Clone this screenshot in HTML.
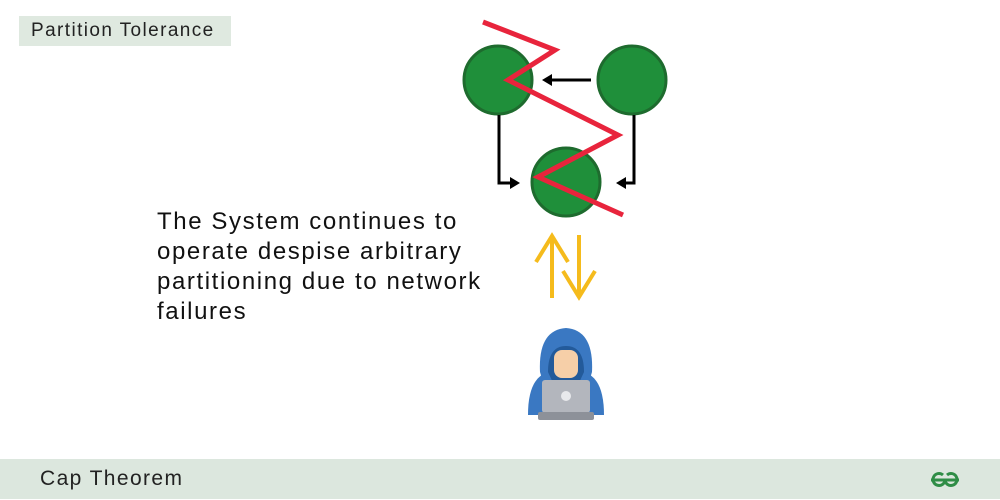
<!DOCTYPE html>
<html><head><meta charset="utf-8"><style>
html,body{margin:0;padding:0;width:1000px;height:500px;overflow:hidden;background:#fff;font-family:"Liberation Sans",sans-serif;}
.hdr{position:absolute;left:19px;top:16px;width:212px;height:30px;background:#dfe9e0;}
.hdr span{position:absolute;left:12px;top:4px;font-size:19px;color:#222;letter-spacing:1.4px;}
.ftr{position:absolute;left:0;top:459px;width:1000px;height:40px;background:#dce7de;}
.ftr span{position:absolute;left:40px;top:8px;font-size:21px;color:#222;letter-spacing:1.4px;}
.txt{position:absolute;left:157px;top:207px;font-size:24px;line-height:30px;color:#111;letter-spacing:1.6px;white-space:nowrap;}
</style></head><body>
<div class="hdr"><span>Partition Tolerance</span></div>
<div class="txt">The System continues to<br>operate despise arbitrary<br>partitioning due to network<br>failures</div>
<svg width="1000" height="500" style="position:absolute;left:0;top:0">
<g fill="#1f8f3a" stroke="#1e6b2e" stroke-width="3">
<circle cx="498" cy="80" r="34"/>
<circle cx="632" cy="80" r="34"/>
<circle cx="566" cy="182" r="34"/>
</g>
<g stroke="#000" stroke-width="3" fill="none">
<line x1="591" y1="80" x2="548" y2="80"/>
<polyline points="499,115 499,183 515,183"/>
<polyline points="634,115 634,183 621,183"/>
</g>
<g fill="#000">
<polygon points="542,80 552,74 552,86"/>
<polygon points="520,183 510,177 510,189"/>
<polygon points="616,183 626,177 626,189"/>
</g>
<polyline points="483,22 555,50 508,80 618,135 538,177 623,215" fill="none" stroke="#e8243c" stroke-width="5" stroke-linejoin="miter"/>
<g stroke="#f5bb1c" stroke-width="4" fill="none">
<line x1="552" y1="298" x2="552" y2="236"/>
<polyline points="536,262 552,236 568,262"/>
<line x1="579" y1="235" x2="579" y2="297"/>
<polyline points="563,271 579,297 595,271"/>
</g>
<g>
<path d="M528,415 Q528,378 548,372 L584,372 Q604,378 604,415 Z" fill="#3a78c2"/>
<path d="M540,372 Q538,330 566,328 Q594,330 592,372 L586,392 L546,392 Z" fill="#3a78c2"/>
<path d="M548,372 Q548,346 566,346 Q584,346 584,372 L578,385 L554,385 Z" fill="#235a9a"/>
<rect x="554" y="350" width="24" height="28" rx="8" fill="#f6cfa8"/>
<rect x="542" y="380" width="48" height="33" rx="3" fill="#b3b6bd"/>
<circle cx="566" cy="396" r="5" fill="#e8e9ec"/>
<rect x="538" y="412" width="56" height="8" rx="2" fill="#8d9199"/>
</g>
</svg>
<div class="ftr"><span>Cap Theorem</span>
<svg width="40" height="20" style="position:absolute;left:928px;top:11px">
<g fill="none" stroke="#2f8d46" stroke-width="3">
<path d="M3,10 H17 A6,6 0 1 1 15,5"/>
<path d="M31,10 H17 A6,6 0 1 0 19,5"/>
</g></svg>
</div>
</body></html>
